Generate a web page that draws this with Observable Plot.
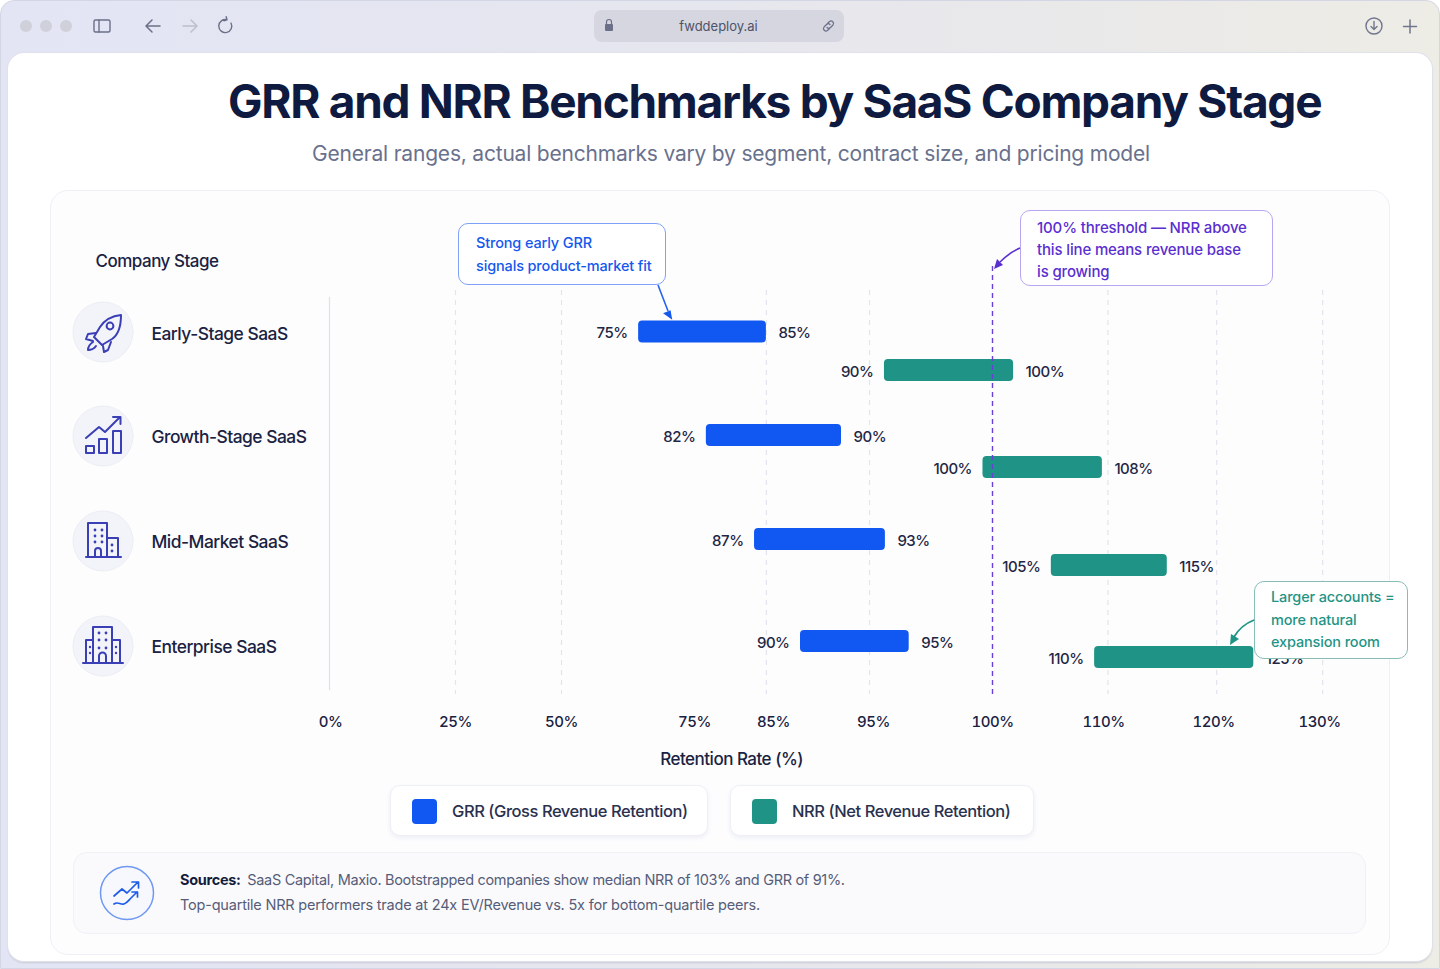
<!DOCTYPE html>
<html><head><meta charset="utf-8">
<script src="https://cdn.jsdelivr.net/npm/d3@7"></script>
<script src="https://cdn.jsdelivr.net/npm/@observablehq/plot@0.6"></script>
<style>
html,body{margin:0;padding:0;background:#fff;}
body{width:1440px;height:969px;overflow:hidden;position:relative;font-family:Inter,"Noto Sans",sans-serif;color:#1a2242;}
.abs{position:absolute;box-sizing:border-box;}
#chrome{left:0;top:0;width:1440px;height:969px;border-radius:14px 14px 0 0;background:linear-gradient(90deg,#e3e5f5 0%,#e6e6ee 50%,#edece5 100%);border:1px solid #d3d6e4;}
#panel{left:8px;top:53px;width:1424px;height:908px;background:#fff;border-radius:16px;box-shadow:0 0 0 1px #dfe1ec,0 2px 2px #c9cbd4;}
#card{left:50px;top:190px;width:1340px;height:765px;border:1px solid #eff0f7;border-radius:18px;background:#fdfdfe;}
#url{left:594px;top:10px;width:250px;height:32px;border-radius:8px;background:#d5d6e0;font-size:13px;color:#4d5369;line-height:33px;text-align:center;padding-right:1px;}
#title{left:228px;top:70px;white-space:nowrap;font-size:46px;font-weight:700;letter-spacing:-1.28px;color:#0f1a40;line-height:62px;}
#sub{left:312px;top:140px;white-space:nowrap;font-size:21px;color:#69718d;line-height:28px;letter-spacing:-.2px;}
.callout{background:#fff;border-radius:10px;font-size:15px;font-weight:500;white-space:nowrap;letter-spacing:-.15px;}
.legend{top:785px;height:51px;background:#fff;border:1px solid #eff0f6;border-radius:10px;box-shadow:0 2px 5px #eceef5;font-size:16.5px;font-weight:500;color:#2a314e;line-height:50px;white-space:nowrap;letter-spacing:-.44px;}
.swatch{position:absolute;top:13px;left:21px;width:25px;height:25px;border-radius:4px;}
#src{left:73px;top:852px;width:1293px;height:82px;border:1px solid #f0f1f7;border-radius:14px;background:#fafafd;}
#srcText{left:180px;top:867px;font-size:14.5px;line-height:25px;color:#565d78;white-space:nowrap;letter-spacing:-.2px;}
#srcText b{color:#141c3c;font-weight:700;margin-right:3px;}
#srcText .l1{letter-spacing:-.32px;}
svg.over{position:absolute;left:0;top:0;pointer-events:none;}
#plotwrap{position:absolute;left:0;top:0;}
#plotwrap text{letter-spacing:-.5px;}
#plotwrap rect{rx:4px;ry:4px;}
</style></head>
<body>
<div class="abs" id="chrome"></div>
<svg class="over" width="1440" height="60" fill="none" stroke-linecap="round" stroke-linejoin="round">
  <circle cx="26" cy="26" r="6" fill="#cfd0da"/><circle cx="46" cy="26" r="6" fill="#cfd0da"/><circle cx="66" cy="26" r="6" fill="#cfd0da"/>
  <rect x="94" y="20" width="16" height="12" rx="1.5" stroke="#6b7088" stroke-width="1.4"/><path d="M99 20v12" stroke="#6b7088" stroke-width="1.4"/>
  <path d="M160 26h-13m5-6l-6 6l6 6" stroke="#6b7088" stroke-width="1.5"/>
  <path d="M183 26h13m-5-6l6 6l-6 6" stroke="#bcbfcd" stroke-width="1.5"/>
  <path d="M231 23a6.5 6.5 0 1 1-4-3.2m0 0l-.8-3m.8 3l-3 1" stroke="#6b7088" stroke-width="1.4"/>
  <circle cx="1374" cy="26" r="8" stroke="#71768f" stroke-width="1.4"/><path d="M1374 21.5v8m-3-3l3 3l3-3" stroke="#71768f" stroke-width="1.4"/>
  <path d="M1410 20v13m-6.500-6.500h13" stroke="#71768f" stroke-width="1.5"/>
</svg>
<div class="abs" id="url">fwddeploy.ai</div>
<div class="abs" id="panel"></div>
<svg class="over" width="1440" height="60" fill="none" stroke-linecap="round" stroke-linejoin="round" style="z-index:3">
  <rect x="605" y="24" width="8" height="7" rx="1" fill="#6b7088"/><path d="M606.500 24v-2a2.500 2.500 0 0 1 5 0v2" stroke="#6b7088" stroke-width="1.200"/>
  <g stroke="#6b7088" stroke-width="1.200"><path d="M827.500 23.500l2-2a2.500 2.500 0 0 1 3.500 3.500l-2.500 2.500a2.500 2.500 0 0 1-3.500 0"/><path d="M829.500 28.500l-2 2a2.500 2.500 0 0 1-3.500-3.500l2.500-2.500a2.500 2.500 0 0 1 3.500 0"/></g>
</svg>
<div class="abs" id="title">GRR and NRR Benchmarks by SaaS Company Stage</div>
<div class="abs" id="sub">General ranges, actual benchmarks vary by segment, contract size, and pricing model</div>
<div class="abs" id="card"></div>
<svg class="over" id="icons" width="1440" height="969" fill="none" stroke-linecap="round" stroke-linejoin="round">
  <g fill="#f3f4f9" stroke="#eceef5"><circle cx="103" cy="332" r="30"/><circle cx="103" cy="436" r="30"/><circle cx="103" cy="541" r="30"/><circle cx="103" cy="646" r="30"/></g>
  <g stroke="#3a3fb5" stroke-width="2">
    <path d="M121 315c-10 1-17 6-21 12l-6 10l8 8l10-6c6-4 9-12 9-24z"/><circle cx="110" cy="326" r="3.400"/><path d="M96 333l-8 1l-2 5l7 2M103 346l1 6l4-2l3-8M93 342c-3 2-5 5-5 8c3 0 6-1 8-4"/>
    <path d="M86 438l13-11l6 5l15-15m-7 0h7.500v7"/><rect x="86" y="446" width="8" height="7"/><rect x="99" y="439" width="8" height="14"/><rect x="113" y="431" width="8" height="22"/>
    <path d="M86 557h35M88 557v-34h19v34M107 538h11v19M95 557v-6a3 3 0 0 1 6 0v6"/>
    <path d="M83 663h40M86 663v-23h7M120 663v-23h-8M93 663v-36h19v36M99 663v-7a3.500 3.500 0 0 1 7 0v7"/>
  </g>
  <g fill="#3a3fb5">
    <circle cx="95" cy="530" r="1.400"/><circle cx="102" cy="530" r="1.400"/><circle cx="95" cy="536" r="1.400"/><circle cx="102" cy="536" r="1.400"/><circle cx="95" cy="542" r="1.400"/><circle cx="102" cy="542" r="1.400"/><circle cx="112" cy="545" r="1.400"/><circle cx="112" cy="551" r="1.400"/>
    <circle cx="99" cy="633" r="1.400"/><circle cx="106" cy="633" r="1.400"/><circle cx="99" cy="640" r="1.400"/><circle cx="106" cy="640" r="1.400"/><circle cx="99" cy="648" r="1.400"/><circle cx="106" cy="648" r="1.400"/><circle cx="90" cy="647" r="1.200"/><circle cx="90" cy="653" r="1.200"/><circle cx="116" cy="647" r="1.200"/><circle cx="116" cy="653" r="1.200"/>
  </g>
</svg>
<div id="plotwrap"></div>
<div class="abs callout" style="left:458px;top:223px;width:208px;height:62px;border:1.5px solid #7ea2f7;color:#1558ee;padding:7px 0 0 17px;line-height:23px;font-size:14.500px;">Strong early GRR<br>signals product-market fit</div>
<div class="abs callout" style="left:1020px;top:210px;width:253px;height:76px;border:1.5px solid #b9a6f2;color:#5a2fd0;padding:6px 0 0 16px;line-height:22px;">100% threshold — NRR above<br>this line means revenue base<br>is growing</div>
<div class="abs callout" style="left:1254px;top:581px;width:154px;height:78px;border:1.5px solid #86bdb6;color:#1f9486;padding:4px 0 0 16px;line-height:22.500px;font-size:14.500px;">Larger accounts =<br>more natural<br>expansion room</div>
<svg class="over" width="1440" height="969" fill="none" style="z-index:4">
  <path d="M658 285l10 26" stroke="#2a62ee" stroke-width="1.600"/><path d="M673 319l-10-5l7-4z" fill="#1558ee" transform="rotate(8 668 314)"/>
  <path d="M1020 248c-9 4-15 9-20 14" stroke="#5a2fd0" stroke-width="1.600"/><path d="M994 269l3-10l6 6z" fill="#5a2fd0"/>
  <path d="M1254 620c-10 4-16 10-20 17" stroke="#1f9486" stroke-width="1.800"/><path d="M1230 645l1-11l8 5z" fill="#1f9486"/>
</svg>
<div class="abs legend" style="left:390px;width:318px;padding-left:61px;"><span class="swatch" style="background:#1157f2"></span>GRR (Gross Revenue Retention)</div>
<div class="abs legend" style="left:730px;width:304px;padding-left:61px;"><span class="swatch" style="background:#1f9486"></span>NRR (Net Revenue Retention)</div>
<div class="abs" id="src"></div>
<svg class="over" width="1440" height="969" fill="none" stroke-linecap="round" stroke-linejoin="round">
  <circle cx="127" cy="893" r="26.500" fill="#f7f8fd" stroke="#6e98f3" stroke-width="1.500"/>
  <path d="M114 896l8-7l5 4l11-11m-6 0h6.500v6M114 904c4-3 6 1 10 0c3-1 5-4 7-6l6-6m-5 0h5.500v5" stroke="#1e5ce8" stroke-width="1.700"/>
</svg>
<div class="abs" id="srcText"><span class="l1"><b>Sources:</b> SaaS Capital, Maxio. Bootstrapped companies show median NRR of 103% and GRR of 91%.</span><br>Top-quartile NRR performers trade at 24x EV/Revenue vs. 5x for bottom-quartile peers.</div>

<script>
// Axis as printed: its ticks are unevenly spaced along the axis
const tickValues = [0, 25, 50, 75, 85, 95, 100, 110, 120, 130];
const tickRange  = [330, 455, 561, 694, 773, 873, 992, 1103, 1213, 1319];
const gridValues = [25, 50, 84.1, 94.6, 110.4, 120.3, 130.3];
const threshold = 100;

const stages = ["Early-Stage SaaS", "Growth-Stage SaaS", "Mid-Market SaaS", "Enterprise SaaS"];
const stageRow = [0.07, 2.06, 4.1, 6.37];

// Bar ends as read against the axis, and the value labels printed beside them
const grrStart = [64.5, 76.5, 82.6, 87.7];
const grrEnd   = [84.1, 91.8, 95.5, 96.5];
const nrrStart = [95.46, 99.6, 105.3, 109.2];
const nrrEnd   = [101.9, 109.9, 115.8, 123.8];
const grrLow  = ["75%", "82%", "87%", "90%"];
const grrHigh = ["85%", "90%", "93%", "95%"];
const nrrLow  = ["90%", "100%", "105%", "110%"];
const nrrHigh = ["100%", "108%", "115%", "125%"];

// Rows: slots 0..7 alternate GRR / NRR per stage; -2, -1, 8 bound the rules
const slotDomain = [-2, -1, 0, 1, 2, 3, 4, 5, 6, 7, 8];
const slotRange  = [266, 290, 331.5, 370, 435, 467, 539, 565, 641, 657, 694];

const COLORS = {GRR: "#1157f2", NRR: "#1f9486"};
const rows = stages.flatMap((stage, i) => [
  {stage, series: "GRR", slot: i * 2, start: grrStart[i], end: grrEnd[i], low: grrLow[i], high: grrHigh[i]},
  {stage, series: "NRR", slot: i * 2 + 1, start: nrrStart[i], end: nrrEnd[i], low: nrrLow[i], high: nrrHigh[i]}
]);
const stageRows = stages.map((stage, i) => ({stage, row: stageRow[i]}));
const FONT = "Inter, 'Noto Sans', sans-serif";

const chart = Plot.plot({
  width: 1440, height: 969,
  marginTop: 0, marginBottom: 260, marginLeft: 0, marginRight: 0,
  style: {background: "transparent", fontFamily: FONT, color: "#1a2242"},
  x: {type: "linear", domain: tickValues, range: tickRange, axis: null},
  y: {type: "linear", domain: slotDomain, range: slotRange, axis: null},
  marks: [
    Plot.ruleX([0], {y1: -0.83, y2: 7.9, stroke: "#dfe1ea", strokeWidth: 1.2, dx: -1}),
    Plot.ruleX(gridValues, {y1: -1, y2: 8, stroke: "#e2e4ee", strokeWidth: 1.2, strokeDasharray: "5 5"}),
    Plot.rect(rows, {x1: "start", x2: "end", y1: "slot", y2: "slot", insetTop: -11, insetBottom: -11, fill: d => COLORS[d.series]}),
    Plot.ruleX([threshold], {y1: -2, y2: 8, stroke: "#6a3fd6", strokeWidth: 1.4, strokeDasharray: "5 4"}),
    Plot.text(rows, {x: "start", y: "slot", text: "low", textAnchor: "end", dx: -11, dy: 1.5, fontSize: 15, fontWeight: 500, fill: "#1f2744"}),
    Plot.text(rows, {x: "end", y: "slot", text: "high", textAnchor: "start", dx: 12, dy: 1.5, fontSize: 15, fontWeight: 500, fill: "#1f2744"}),
    Plot.text(stageRows, {x: 0, y: "row", text: "stage", textAnchor: "start", dx: -179, fontSize: 17.4, fontWeight: 500, fill: "#1a2242"}),
    Plot.text(["Company Stage"], {x: 0, y: -2, dx: -235, dy: -5, textAnchor: "start", fontSize: 17, fontWeight: 500, fill: "#1a2242"}),
    Plot.text(["Retention Rate (%)"], {x: 79.7, y: 8, dy: 65, fontSize: 17, fontWeight: 500, fill: "#1a2242"}),
    Plot.axisX({ticks: tickValues, tickFormat: d => d + "%", tickSize: 0, tickPadding: 7, fontSize: 15, fontWeight: 500, label: null, anchor: "bottom", fill: "#1a2242"})
  ]
});
document.getElementById("plotwrap").appendChild(chart);
</script>
</body></html>
